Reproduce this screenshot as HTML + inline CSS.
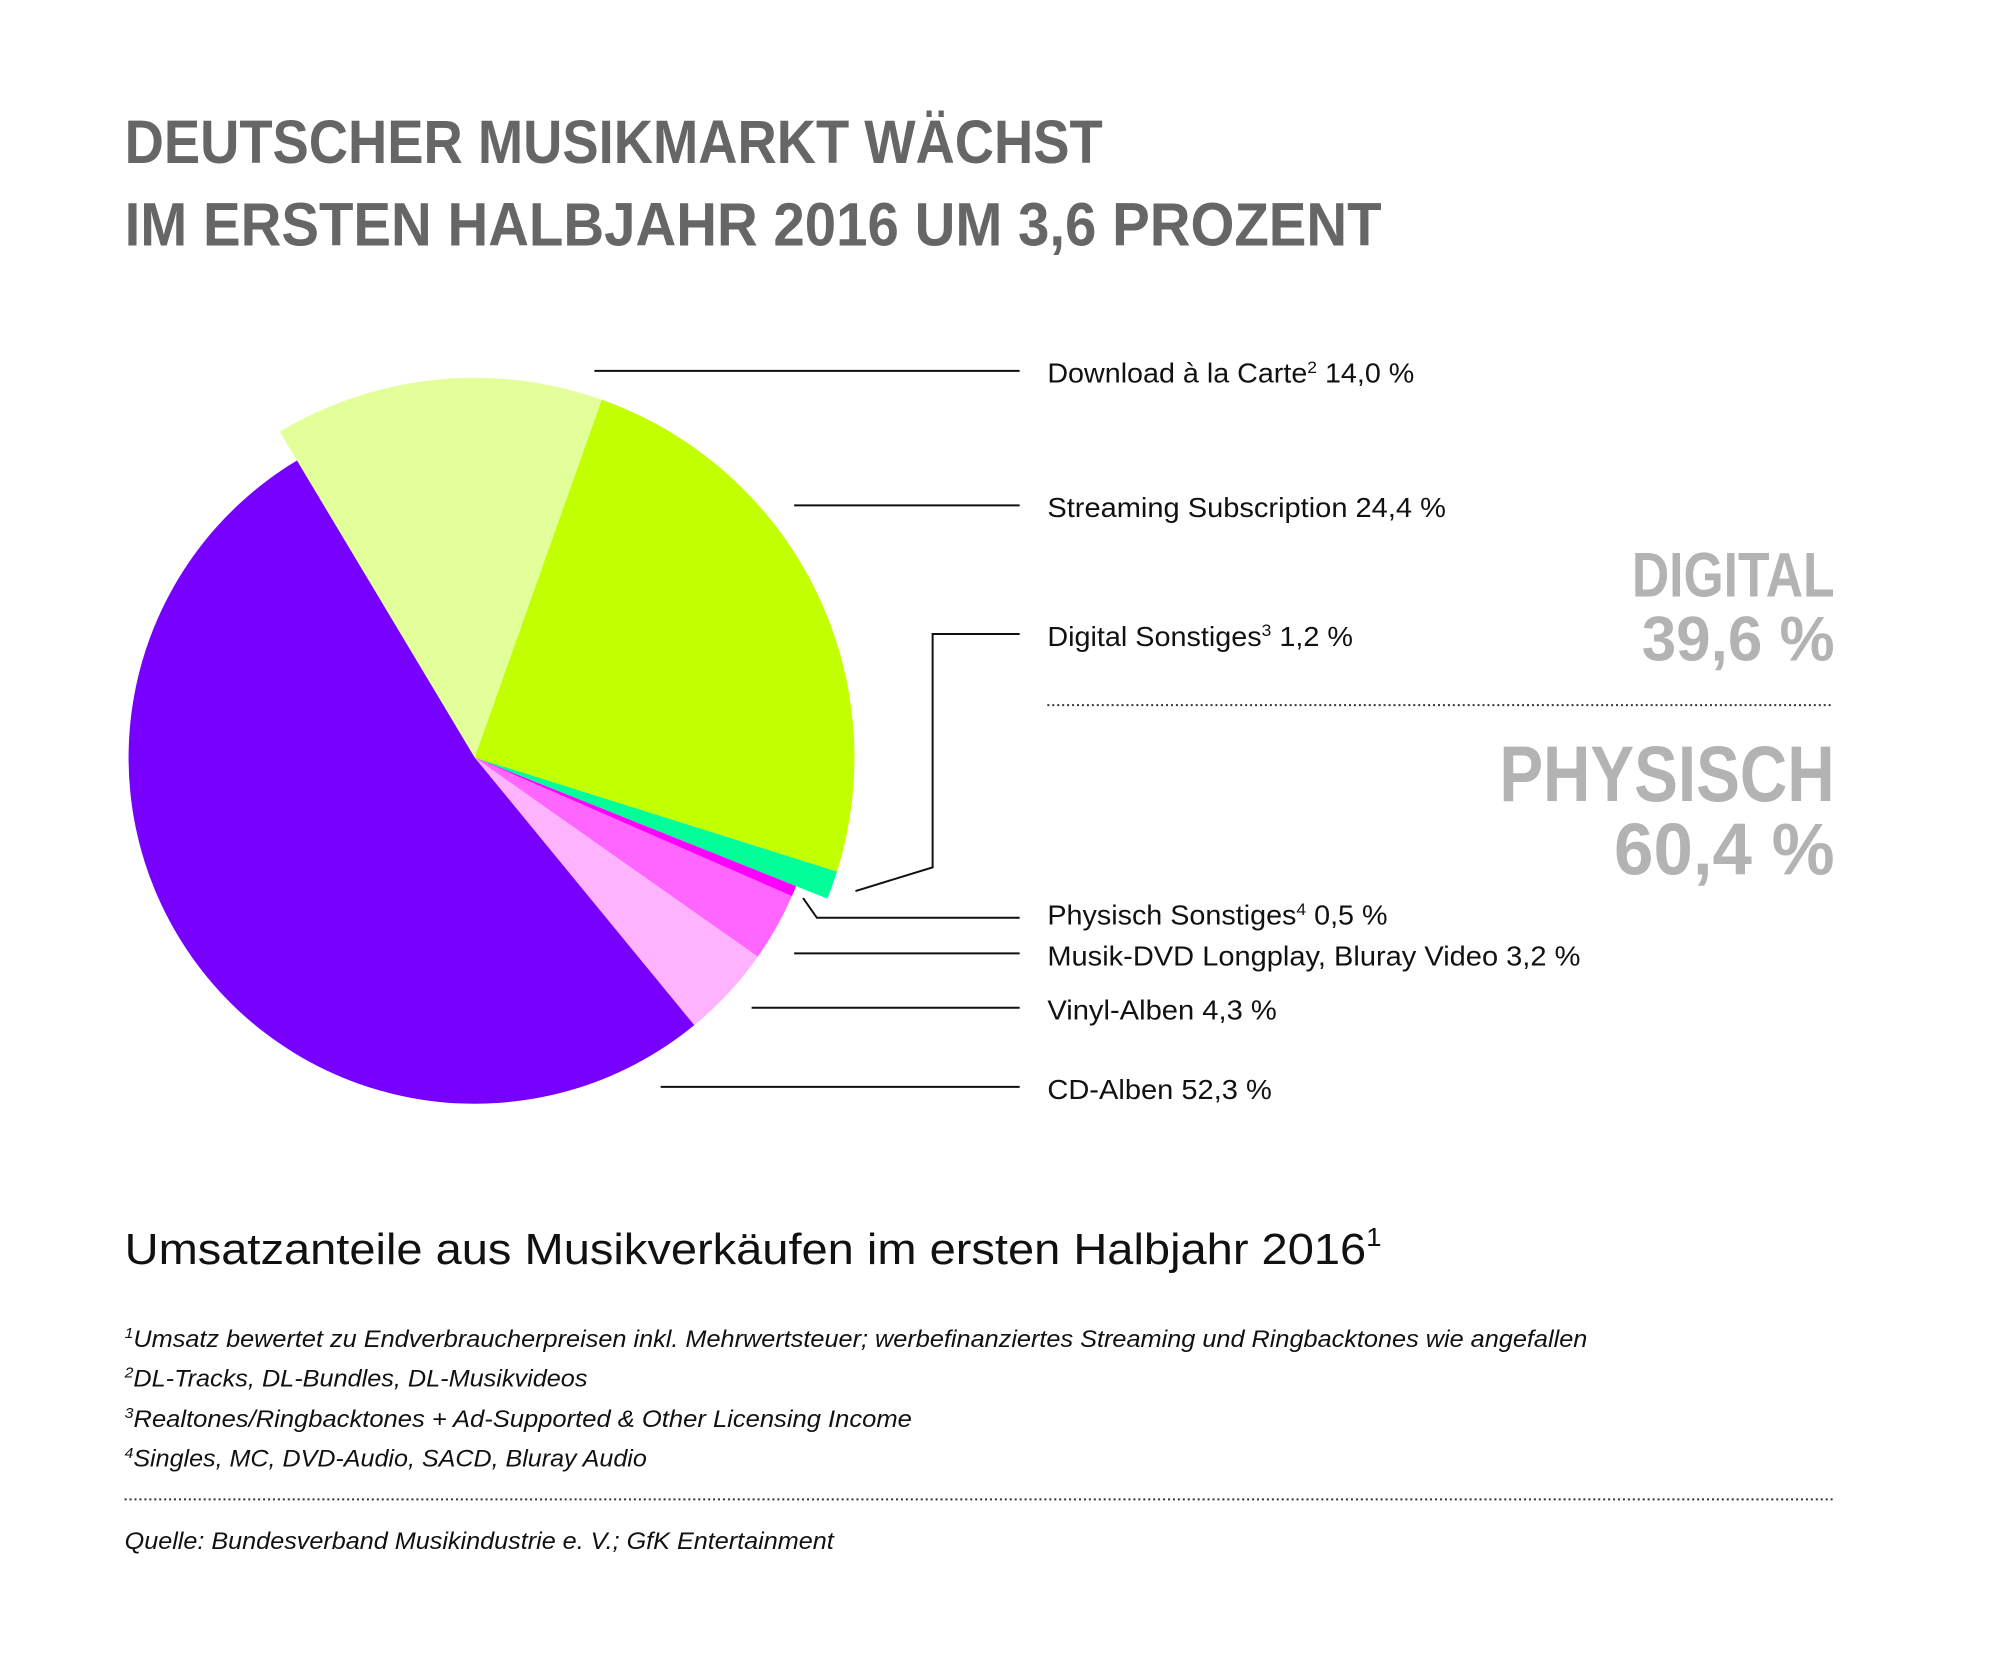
<!DOCTYPE html>
<html><head><meta charset="utf-8"><style>
html,body{margin:0;padding:0;background:#fff;}
svg{display:block;font-family:"Liberation Sans",sans-serif;}
.lbl{font-size:28px;fill:#111;}
.fn{font-size:24px;font-style:italic;fill:#111;}
</style></head><body>
<svg id="chart" width="2000" height="1669" viewBox="0 0 2000 1669" xmlns="http://www.w3.org/2000/svg">
<rect width="2000" height="1669" fill="#fff"/>
<g transform="scale(0.989)">
<g fill="#666" font-weight="bold" font-size="62">
<text x="126" y="165" textLength="989" lengthAdjust="spacingAndGlyphs">DEUTSCHER MUSIKMARKT WÄCHST</text>
<text x="126" y="248" textLength="1271" lengthAdjust="spacingAndGlyphs">IM ERSTEN HALBJAHR 2016 UM 3,6 PROZENT</text>
</g>
<g id="pie"></g>
<g stroke="#111" stroke-width="2" fill="none">
<line x1="601" y1="375" x2="1031" y2="375"/>
<line x1="803" y1="511" x2="1031" y2="511"/>
<polyline points="865,901 943,877 943,641 1031,641"/>
<polyline points="812,908 826,928 1031,928"/>
<line x1="803" y1="964" x2="1031" y2="964"/>
<line x1="760" y1="1019" x2="1031" y2="1019"/>
<line x1="668" y1="1099" x2="1031" y2="1099"/>
</g>
<g class="lbl">
<text class="lbl" x="1059" y="387" textLength="371" lengthAdjust="spacingAndGlyphs">Download à la Carte<tspan font-size="17" dy="-10">2</tspan><tspan dy="10"> 14,0 %</tspan></text>
<text class="lbl" x="1059" y="523" textLength="403" lengthAdjust="spacingAndGlyphs">Streaming Subscription 24,4 %</text>
<text class="lbl" x="1059" y="653" textLength="309" lengthAdjust="spacingAndGlyphs">Digital Sonstiges<tspan font-size="17" dy="-10">3</tspan><tspan dy="10"> 1,2 %</tspan></text>
<text class="lbl" x="1059" y="935" textLength="344" lengthAdjust="spacingAndGlyphs">Physisch Sonstiges<tspan font-size="17" dy="-10">4</tspan><tspan dy="10"> 0,5 %</tspan></text>
<text class="lbl" x="1059" y="976" textLength="539" lengthAdjust="spacingAndGlyphs">Musik-DVD Longplay, Bluray Video 3,2 %</text>
<text class="lbl" x="1059" y="1031" textLength="232" lengthAdjust="spacingAndGlyphs">Vinyl-Alben 4,3 %</text>
<text class="lbl" x="1059" y="1111" textLength="227" lengthAdjust="spacingAndGlyphs">CD-Alben 52,3 %</text>
</g>
<g fill="#b3b3b3" font-weight="bold" text-anchor="end">
<text x="1855" y="603" font-size="64" textLength="205" lengthAdjust="spacingAndGlyphs">DIGITAL</text>
<text x="1855" y="668" font-size="64" textLength="195" lengthAdjust="spacingAndGlyphs">39,6 %</text>
<line x1="1059" y1="713" x2="1853" y2="713" stroke="#333" stroke-width="2" stroke-dasharray="2,3"/>
<text x="1855" y="810" font-size="80" textLength="339" lengthAdjust="spacingAndGlyphs">PHYSISCH</text>
<text x="1855" y="884" font-size="74" textLength="223" lengthAdjust="spacingAndGlyphs">60,4 %</text>
</g>
<text x="126" y="1278" font-size="44" fill="#111" textLength="1271" lengthAdjust="spacingAndGlyphs">Umsatzanteile aus Musikverkäufen im ersten Halbjahr 2016<tspan font-size="26" dy="-18">1</tspan></text>
<g>
<text class="fn" x="126" y="1362" textLength="1479" lengthAdjust="spacingAndGlyphs"><tspan font-size="15" dy="-9">1</tspan><tspan dy="9">Umsatz bewertet zu Endverbraucherpreisen inkl. Mehrwertsteuer; werbefinanziertes Streaming und Ringbacktones wie angefallen</tspan></text>
<text class="fn" x="126" y="1402" textLength="468" lengthAdjust="spacingAndGlyphs"><tspan font-size="15" dy="-9">2</tspan><tspan dy="9">DL-Tracks, DL-Bundles, DL-Musikvideos</tspan></text>
<text class="fn" x="126" y="1443" textLength="796" lengthAdjust="spacingAndGlyphs"><tspan font-size="15" dy="-9">3</tspan><tspan dy="9">Realtones/Ringbacktones + Ad-Supported &amp; Other Licensing Income</tspan></text>
<text class="fn" x="126" y="1483" textLength="528" lengthAdjust="spacingAndGlyphs"><tspan font-size="15" dy="-9">4</tspan><tspan dy="9">Singles, MC, DVD-Audio, SACD, Bluray Audio</tspan></text>
<line x1="126" y1="1516" x2="1853" y2="1516" stroke="#333" stroke-width="2" stroke-dasharray="2,3"/>
<text class="fn" x="126" y="1566" textLength="717" lengthAdjust="spacingAndGlyphs">Quelle: Bundesverband Musikindustrie e. V.; GfK Entertainment</text>
</g>
</g>
</svg>
<script>
const categories = ["Download à la Carte","Streaming Subscription","Digital Sonstiges","Physisch Sonstiges","Musik-DVD Longplay, Bluray Video","Vinyl-Alben","CD-Alben"];
const shares = [14.0, 24.4, 1.2, 0.5, 3.2, 4.3, 52.3];
const groups = ["digital","digital","digital","physisch","physisch","physisch","physisch"];
const colors = ["#e3ff99","#c2ff00","#00ff99","#ff00ff","#ff66ff","#ffb3ff","#7700ff"];
const cx = 480, cy = 766, rDigital = 384, rPhys = 350, startDeg = -30.9;
const total = shares.reduce((a,b)=>a+b,0);
const pie = document.getElementById('pie');
function pt(r, deg){const a = deg*Math.PI/180; return [cx + r*Math.sin(a), cy - r*Math.cos(a)];}
let ang = startDeg;
shares.forEach((v,i)=>{
  const sweep = v/total*360;
  const r = groups[i]==="digital" ? rDigital : rPhys;
  const p1 = pt(r, ang), p2 = pt(r, ang+sweep);
  const large = sweep>180?1:0;
  const path = document.createElementNS('http://www.w3.org/2000/svg','path');
  path.setAttribute('d', `M${cx},${cy} L${p1[0]},${p1[1]} A${r},${r} 0 ${large} 1 ${p2[0]},${p2[1]} Z`);
  path.setAttribute('fill', colors[i]);
  
  
  pie.appendChild(path);
  ang += sweep;
});
</script>
</body></html>
